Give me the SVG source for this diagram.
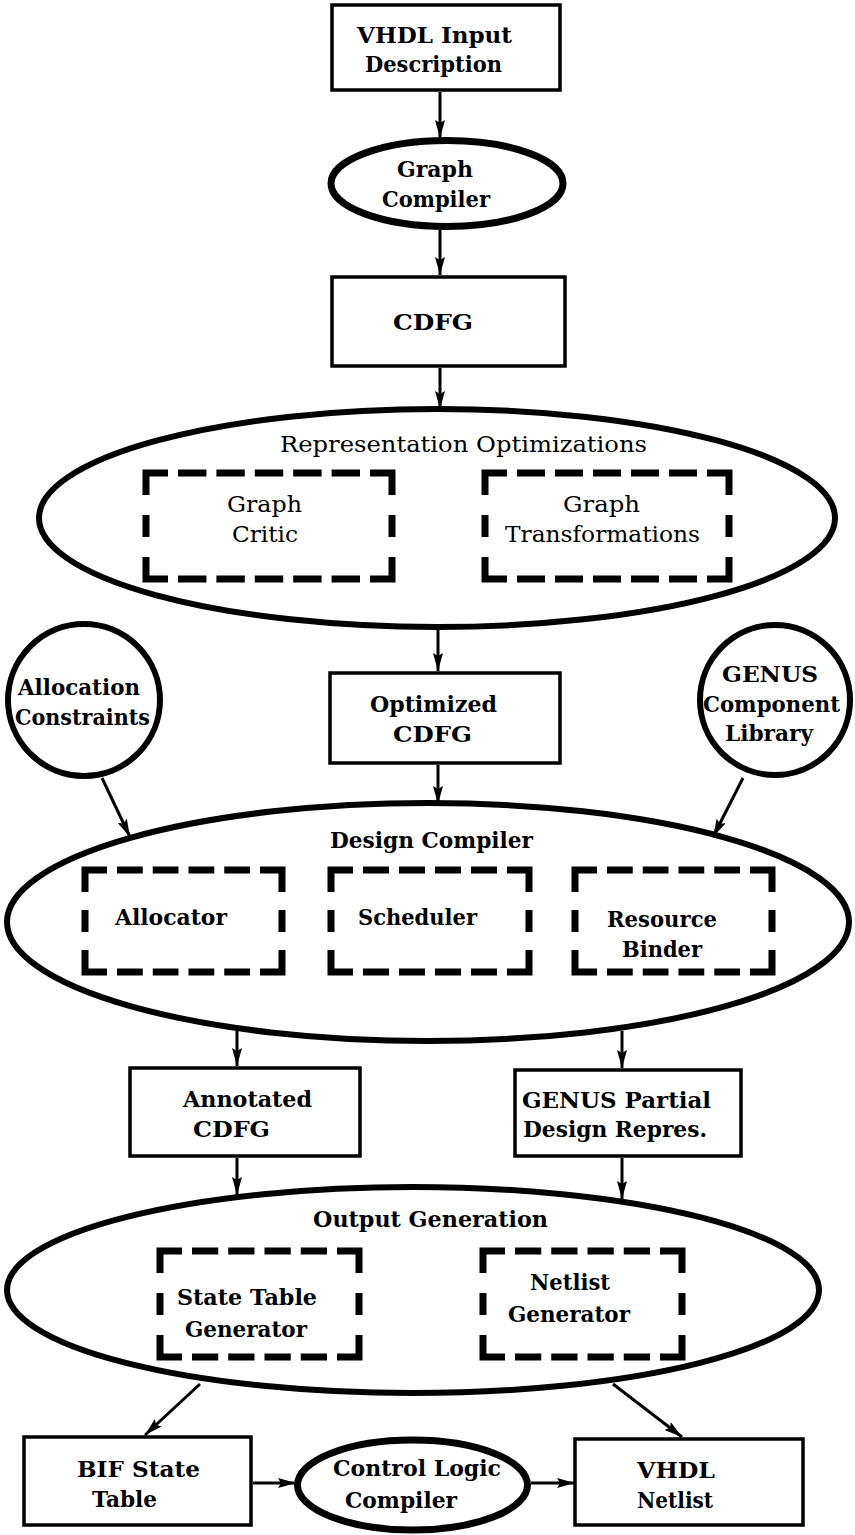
<svg xmlns="http://www.w3.org/2000/svg" width="855" height="1535" viewBox="0 0 855 1535">
  <style>
    .box { fill: #fff; stroke: #000; stroke-width: 3.5; }
    .proc { fill: #fff; stroke: #000; stroke-width: 7; }
    .big { fill: none; stroke: #000; stroke-width: 6; }
    .src { fill: #fff; stroke: #000; stroke-width: 6; }
    .sub { fill: none; stroke: #000; stroke-width: 7; stroke-linejoin: miter; }
    .edge { fill: none; stroke: #000; stroke-width: 3; marker-end: url(#ah); }
    text { font-family: "DejaVu Serif", "Liberation Serif", serif; font-size: 22px; font-weight: bold; fill: #000; }
    text.lt { font-weight: normal; }
  </style>
  <defs>
    <marker id="ah" viewBox="0 0 18 10" refX="18" refY="5" markerWidth="18" markerHeight="10" orient="auto" markerUnits="userSpaceOnUse">
      <path d="M0,0 L18,5 L0,10 L3,5 z" fill="#000"/>
    </marker>
  </defs>
  <rect width="855" height="1535" fill="#fff"/>

  <!-- large process ellipses (drawn first so sub-blocks sit on top) -->
  <g id="rep-opt">
    <ellipse class="big" cx="437" cy="518" rx="398" ry="109"/>
    <text class="lt" x="280" y="452" textLength="367" lengthAdjust="spacingAndGlyphs">Representation Optimizations</text>
  </g>
  <g id="graph-critic">
    <rect class="sub" x="146" y="473" width="246" height="106" stroke-dasharray="22 10 28.4 10 28.4 10 28.4 10 28.4 10 28.4 10 44 20 22 20 44 10 28.4 10 28.4 10 28.4 10 28.4 10 28.4 10 44 20 22 20 22"/>
    <text class="lt" x="227" y="512" textLength="75" lengthAdjust="spacingAndGlyphs">Graph</text>
    <text class="lt" x="232" y="542" textLength="66" lengthAdjust="spacingAndGlyphs">Critic</text>
  </g>
  <g id="graph-transformations">
    <rect class="sub" x="485" y="473" width="244" height="106" stroke-dasharray="22 10 28 10 28 10 28 10 28 10 28 10 44 20 22 20 44 10 28 10 28 10 28 10 28 10 28 10 44 20 22 20 22"/>
    <text class="lt" x="563" y="512" textLength="77" lengthAdjust="spacingAndGlyphs">Graph</text>
    <text class="lt" x="505" y="542" textLength="195" lengthAdjust="spacingAndGlyphs">Transformations</text>
  </g>

  <g id="design-compiler">
    <ellipse class="big" cx="428" cy="922" rx="421" ry="119"/>
    <text x="330" y="848" textLength="203" lengthAdjust="spacingAndGlyphs">Design Compiler</text>
  </g>
  <g id="allocator">
    <rect class="sub" x="85" y="870" width="197" height="102" stroke-dasharray="22 10 25.75 10 25.75 10 25.75 10 25.75 10 44 18 22 18 44 10 25.75 10 25.75 10 25.75 10 25.75 10 44 18 22 18 22"/>
    <text x="115" y="925" textLength="112" lengthAdjust="spacingAndGlyphs">Allocator</text>
  </g>
  <g id="scheduler">
    <rect class="sub" x="331" y="870" width="198" height="102" stroke-dasharray="22 10 26 10 26 10 26 10 26 10 44 18 22 18 44 10 26 10 26 10 26 10 26 10 44 18 22 18 22"/>
    <text x="358" y="925" textLength="119" lengthAdjust="spacingAndGlyphs">Scheduler</text>
  </g>
  <g id="resource-binder">
    <rect class="sub" x="575" y="870" width="197" height="102" stroke-dasharray="22 10 25.75 10 25.75 10 25.75 10 25.75 10 44 18 22 18 44 10 25.75 10 25.75 10 25.75 10 25.75 10 44 18 22 18 22"/>
    <text x="607" y="927" textLength="110" lengthAdjust="spacingAndGlyphs">Resource</text>
    <text x="622" y="957" textLength="80" lengthAdjust="spacingAndGlyphs">Binder</text>
  </g>

  <g id="output-generation">
    <ellipse class="big" cx="413" cy="1290" rx="406" ry="103"/>
    <text x="313" y="1227" textLength="235" lengthAdjust="spacingAndGlyphs">Output Generation</text>
  </g>
  <g id="state-table-generator">
    <rect class="sub" x="160" y="1251" width="199" height="106" stroke-dasharray="22 10 26.25 10 26.25 10 26.25 10 26.25 10 44 20 22 20 44 10 26.25 10 26.25 10 26.25 10 26.25 10 44 20 22 20 22"/>
    <text x="177" y="1305" textLength="140" lengthAdjust="spacingAndGlyphs">State Table</text>
    <text x="185" y="1337" textLength="122" lengthAdjust="spacingAndGlyphs">Generator</text>
  </g>
  <g id="netlist-generator">
    <rect class="sub" x="483" y="1251" width="199" height="106" stroke-dasharray="22 10 26.25 10 26.25 10 26.25 10 26.25 10 44 20 22 20 44 10 26.25 10 26.25 10 26.25 10 26.25 10 44 20 22 20 22"/>
    <text x="530" y="1290" textLength="80" lengthAdjust="spacingAndGlyphs">Netlist</text>
    <text x="508" y="1322" textLength="122" lengthAdjust="spacingAndGlyphs">Generator</text>
  </g>

  <!-- data boxes and tools -->
  <g id="vhdl-input">
    <rect class="box" x="332" y="5" width="228" height="85"/>
    <text x="357" y="43" textLength="155" lengthAdjust="spacingAndGlyphs">VHDL Input</text>
    <text x="365" y="72" textLength="137" lengthAdjust="spacingAndGlyphs">Description</text>
  </g>
  <g id="graph-compiler">
    <ellipse class="proc" cx="447" cy="183.5" rx="116" ry="43"/>
    <text x="397" y="177" textLength="76" lengthAdjust="spacingAndGlyphs">Graph</text>
    <text x="382" y="207" textLength="108" lengthAdjust="spacingAndGlyphs">Compiler</text>
  </g>
  <g id="cdfg">
    <rect class="box" x="332" y="277" width="233" height="89"/>
    <text x="393" y="330" textLength="80" lengthAdjust="spacingAndGlyphs">CDFG</text>
  </g>
  <g id="optimized-cdfg">
    <rect class="box" x="330" y="673" width="230" height="90"/>
    <text x="370" y="712" textLength="127" lengthAdjust="spacingAndGlyphs">Optimized</text>
    <text x="393" y="742" textLength="79" lengthAdjust="spacingAndGlyphs">CDFG</text>
  </g>
  <g id="allocation-constraints">
    <circle class="src" cx="84" cy="700" r="76"/>
    <text x="18" y="695" textLength="122" lengthAdjust="spacingAndGlyphs">Allocation</text>
    <text x="15" y="725" textLength="135" lengthAdjust="spacingAndGlyphs">Constraints</text>
  </g>
  <g id="genus-library">
    <circle class="src" cx="775" cy="700" r="75"/>
    <text x="722" y="682" textLength="96" lengthAdjust="spacingAndGlyphs">GENUS</text>
    <text x="703" y="712" textLength="137" lengthAdjust="spacingAndGlyphs">Component</text>
    <text x="725" y="741" textLength="88" lengthAdjust="spacingAndGlyphs">Library</text>
  </g>
  <g id="annotated-cdfg">
    <rect class="box" x="130" y="1068" width="230" height="88"/>
    <text x="183" y="1107" textLength="129" lengthAdjust="spacingAndGlyphs">Annotated</text>
    <text x="193" y="1137" textLength="77" lengthAdjust="spacingAndGlyphs">CDFG</text>
  </g>
  <g id="genus-partial">
    <rect class="box" x="515" y="1070" width="226" height="86"/>
    <text x="522" y="1108" textLength="189" lengthAdjust="spacingAndGlyphs">GENUS Partial</text>
    <text x="523" y="1137" textLength="184" lengthAdjust="spacingAndGlyphs">Design Repres.</text>
  </g>
  <g id="bif-state-table">
    <rect class="box" x="24" y="1437" width="227" height="88"/>
    <text x="77" y="1477" textLength="123" lengthAdjust="spacingAndGlyphs">BIF State</text>
    <text x="92" y="1507" textLength="65" lengthAdjust="spacingAndGlyphs">Table</text>
  </g>
  <g id="control-logic-compiler">
    <ellipse class="proc" cx="412.5" cy="1485" rx="115" ry="45"/>
    <text x="333" y="1476" textLength="168" lengthAdjust="spacingAndGlyphs">Control Logic</text>
    <text x="345" y="1508" textLength="112" lengthAdjust="spacingAndGlyphs">Compiler</text>
  </g>
  <g id="vhdl-netlist">
    <rect class="box" x="575" y="1439" width="228" height="86"/>
    <text x="637" y="1478" textLength="78" lengthAdjust="spacingAndGlyphs">VHDL</text>
    <text x="637" y="1508" textLength="76" lengthAdjust="spacingAndGlyphs">Netlist</text>
  </g>

  <!-- connectors -->
  <g id="connectors">
    <path class="edge" d="M440,92 L440,138"/>
    <path class="edge" d="M440,230 L440,275"/>
    <path class="edge" d="M440,368 L440,409"/>
    <path class="edge" d="M438,628 L438,671"/>
    <path class="edge" d="M102,778 L130,837"/>
    <path class="edge" d="M438,765 L438,804"/>
    <path class="edge" d="M743,778 L713,837"/>
    <path class="edge" d="M237,1031 L237,1066"/>
    <path class="edge" d="M622,1031 L622,1068"/>
    <path class="edge" d="M237,1158 L237,1195"/>
    <path class="edge" d="M622,1158 L622,1199"/>
    <path class="edge" d="M200,1384 L145,1435"/>
    <path class="edge" d="M613,1384 L682,1437"/>
    <path class="edge" d="M253,1483 L296,1483"/>
    <path class="edge" d="M531,1483 L575,1483"/>
  </g>
</svg>
